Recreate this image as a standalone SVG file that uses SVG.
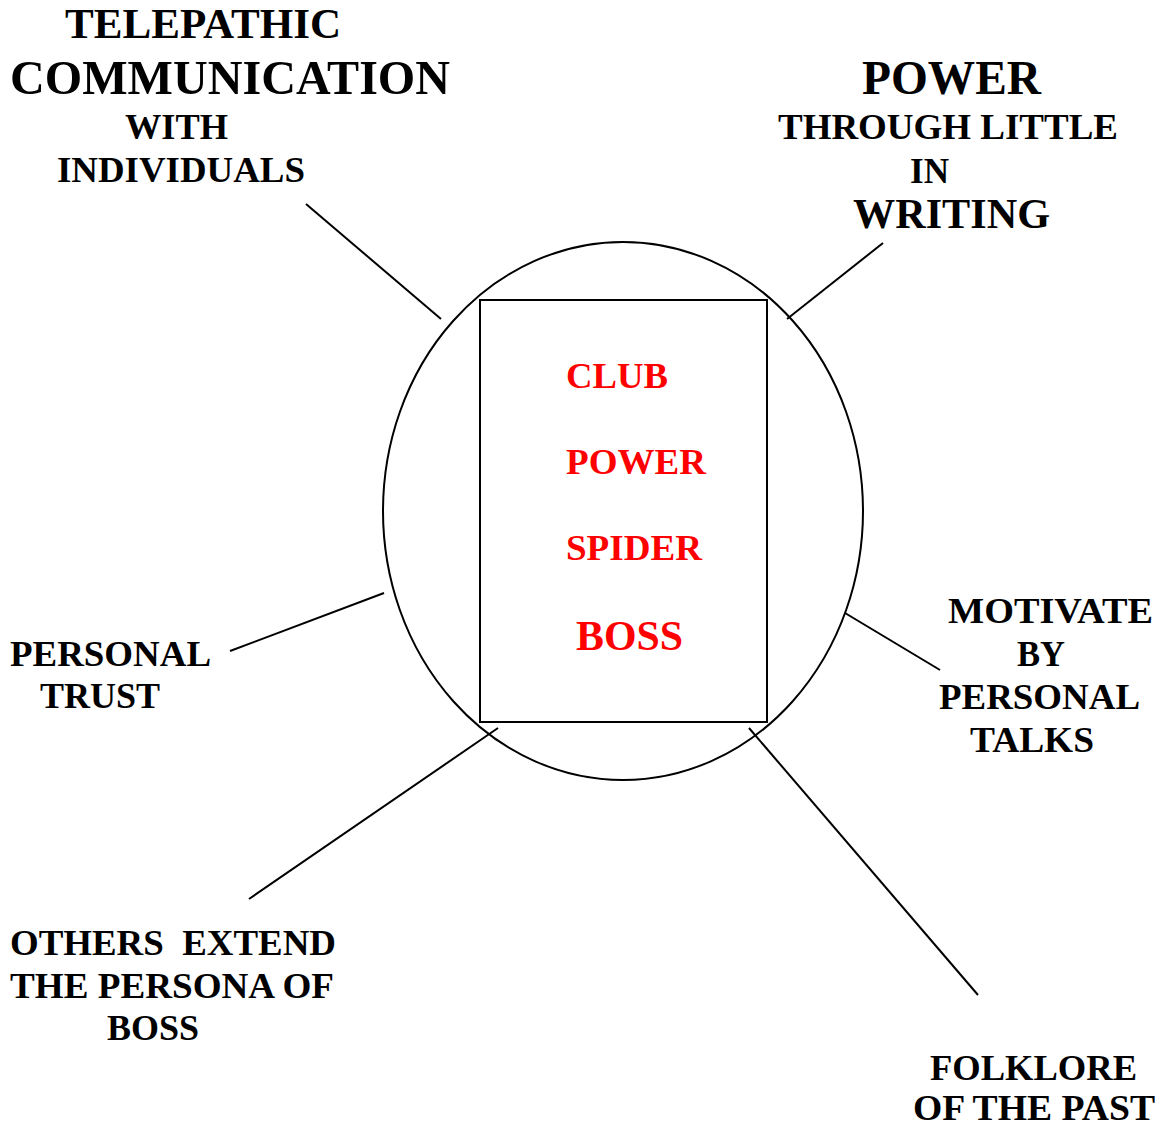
<svg xmlns="http://www.w3.org/2000/svg" width="1162" height="1128" viewBox="0 0 1162 1128">
  <style>
    .lbl { font-family: "Liberation Serif", "Times New Roman", serif; font-weight: bold; fill: #000; }
    .core { font-family: "Liberation Serif", "Times New Roman", serif; font-weight: bold; fill: #ff0000; }
    .s36 { font-size: 36px; }
    .s42 { font-size: 42px; }
    .s48 { font-size: 48px; }
    .conn { stroke: #000; stroke-width: 2; fill: none; }
    .shape { stroke: #000; stroke-width: 2; fill: none; }
  </style>
  <rect width="1162" height="1128" fill="#fff"/>

  <!-- central hub: circle with box inside -->
  <g id="hub">
    <ellipse class="shape" cx="623" cy="511" rx="240" ry="269"/>
    <rect class="shape" x="480" y="300" width="287" height="422" fill="#fff"/>
    <text class="core s36" x="566" y="388" textLength="102" lengthAdjust="spacingAndGlyphs">CLUB</text>
    <text class="core s36" x="566" y="474" textLength="140" lengthAdjust="spacingAndGlyphs">POWER</text>
    <text class="core s36" x="566" y="560" textLength="136" lengthAdjust="spacingAndGlyphs">SPIDER</text>
    <text class="core s42" x="576" y="650" textLength="107" lengthAdjust="spacingAndGlyphs">BOSS</text>
  </g>

  <!-- spokes -->
  <g id="connectors">
    <line class="conn" x1="306" y1="204" x2="441" y2="319"/>
    <line class="conn" x1="883" y1="243" x2="787" y2="319"/>
    <line class="conn" x1="384" y1="593" x2="230" y2="651"/>
    <line class="conn" x1="845" y1="613" x2="940" y2="670"/>
    <line class="conn" x1="498" y1="728" x2="249" y2="899"/>
    <line class="conn" x1="749" y1="728" x2="978" y2="995"/>
  </g>

  <g id="telepathic">
    <text class="lbl s42" x="65" y="38" textLength="276" lengthAdjust="spacingAndGlyphs">TELEPATHIC</text>
    <text class="lbl s48" x="10" y="94" textLength="440" lengthAdjust="spacingAndGlyphs">COMMUNICATION</text>
    <text class="lbl s36" x="125" y="139" textLength="103" lengthAdjust="spacingAndGlyphs">WITH</text>
    <text class="lbl s36" x="57" y="182" textLength="248" lengthAdjust="spacingAndGlyphs">INDIVIDUALS</text>
  </g>

  <g id="power-writing">
    <text class="lbl s48" x="862" y="94" textLength="179" lengthAdjust="spacingAndGlyphs">POWER</text>
    <text class="lbl s36" x="778" y="139" textLength="340" lengthAdjust="spacingAndGlyphs">THROUGH LITTLE</text>
    <text class="lbl s36" x="910" y="183" textLength="39" lengthAdjust="spacingAndGlyphs">IN</text>
    <text class="lbl s42" x="853" y="228" textLength="197" lengthAdjust="spacingAndGlyphs">WRITING</text>
  </g>

  <g id="personal-trust">
    <text class="lbl s36" x="10" y="666" textLength="201" lengthAdjust="spacingAndGlyphs">PERSONAL</text>
    <text class="lbl s36" x="40" y="708" textLength="120" lengthAdjust="spacingAndGlyphs">TRUST</text>
  </g>

  <g id="motivate">
    <text class="lbl s36" x="948" y="623" textLength="205" lengthAdjust="spacingAndGlyphs">MOTIVATE</text>
    <text class="lbl s36" x="1017" y="666" textLength="48" lengthAdjust="spacingAndGlyphs">BY</text>
    <text class="lbl s36" x="939" y="709" textLength="201" lengthAdjust="spacingAndGlyphs">PERSONAL</text>
    <text class="lbl s36" x="970" y="752" textLength="124" lengthAdjust="spacingAndGlyphs">TALKS</text>
  </g>

  <g id="others-extend">
    <text class="lbl s36" x="10" y="955" xml:space="preserve" textLength="326" lengthAdjust="spacingAndGlyphs">OTHERS  EXTEND</text>
    <text class="lbl s36" x="10" y="998" textLength="324" lengthAdjust="spacingAndGlyphs">THE PERSONA OF</text>
    <text class="lbl s36" x="107" y="1040" textLength="92" lengthAdjust="spacingAndGlyphs">BOSS</text>
  </g>

  <g id="folklore">
    <text class="lbl s36" x="930" y="1080" textLength="207" lengthAdjust="spacingAndGlyphs">FOLKLORE</text>
    <text class="lbl s36" x="913" y="1120" textLength="242" lengthAdjust="spacingAndGlyphs">OF THE PAST</text>
  </g>
</svg>
